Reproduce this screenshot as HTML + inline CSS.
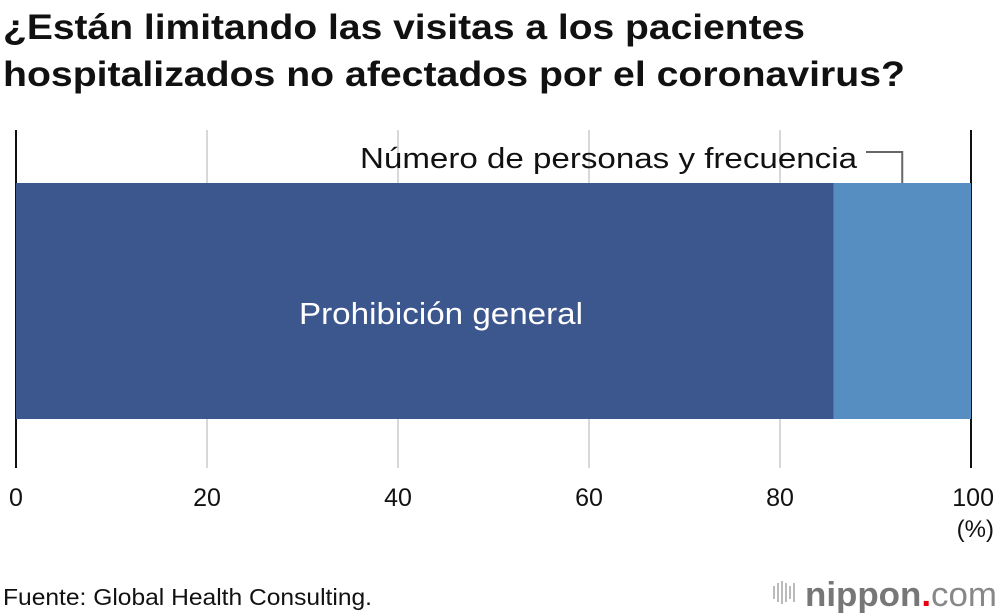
<!DOCTYPE html>
<html><head><meta charset="utf-8"><style>
html,body{margin:0;padding:0;background:#fff;width:1000px;height:616px;overflow:hidden}
svg{display:block;font-family:"Liberation Sans",sans-serif}
</style></head><body>
<svg id="chart" width="1000" height="616" viewBox="0 0 1000 616">
<text x="3" y="39" font-size="35" font-weight="bold" fill="#111" textLength="802" lengthAdjust="spacingAndGlyphs">¿Están limitando las visitas a los pacientes</text>
<text x="3" y="86" font-size="35" font-weight="bold" fill="#111" textLength="902" lengthAdjust="spacingAndGlyphs">hospitalizados no afectados por el coronavirus?</text>
<g id="grid"></g>
<g id="bars"></g>
<g id="ticks"></g>
<text x="994" y="537" font-size="24" text-anchor="end" fill="#111">(%)</text>
<text x="3" y="605" font-size="23" fill="#111" textLength="369" lengthAdjust="spacingAndGlyphs">Fuente: Global Health Consulting.</text>
<g>
<g fill="#bbb"><rect x="773" y="586" width="2" height="13"/><rect x="777" y="583" width="2" height="19"/><rect x="781" y="581" width="2" height="23"/><rect x="785" y="583" width="2" height="19"/><rect x="789" y="586" width="2" height="13"/><rect x="793" y="583" width="2" height="19"/></g>
<text x="805" y="606" font-size="34" font-weight="bold" fill="#777" textLength="192" lengthAdjust="spacingAndGlyphs">nippon<tspan fill="#e60012">.</tspan><tspan font-weight="normal" fill="#888">com</tspan></text>
</g>
</svg>
<script>
const categories = ["Prohibición general", "Número de personas y frecuencia"];
const values = [85.6, 14.4];
const colors = ["#3c568e", "#568ec2"];
const tickValues = [0, 20, 40, 60, 80, 100];
const tickLabels = ["0", "20", "40", "60", "80", "100"];
const NS = "http://www.w3.org/2000/svg";
const x = v => 16 + v * 9.55;
const barTop = 183, barBottom = 419;
function mk(tag, attrs, parent) {
  const e = document.createElementNS(NS, tag);
  for (const k in attrs) e.setAttribute(k, attrs[k]);
  parent.appendChild(e);
  return e;
}
const grid = document.getElementById('grid');
const ticks = document.getElementById('ticks');
tickValues.forEach((t, i) => {
  const edge = (t === 0 || t === 100);
  const l = mk('line', {x1: x(t), x2: x(t), y1: 130, y2: 468, stroke: edge ? '#111' : '#ccc', 'stroke-width': edge ? 2 : 1.5}, grid);
  
  
  const tx = mk('text', {x: t === 100 ? 994 : (t === 0 ? 16 : x(t)), y: 506, 'font-size': 25, 'text-anchor': t === 100 ? 'end' : 'middle', fill: '#111'}, ticks);
  tx.textContent = tickLabels[i];
  
  
});
const bars = document.getElementById('bars');
let acc = 0;
values.forEach((v, i) => {
  const r = mk('rect', {x: x(acc), y: barTop, width: x(acc + v) - x(acc), height: barBottom - barTop, fill: colors[i]}, bars);
  
  
  acc += v;
});
const t0 = mk('text', {x: 441, y: 324, 'font-size': 31, 'text-anchor': 'middle', fill: '#fff', textLength: 284, lengthAdjust: 'spacingAndGlyphs'}, bars);
t0.textContent = categories[0];


const cx = (x(values[0]) + x(100)) / 2;
const cl = mk('polyline', {points: `866,152 ${cx},152 ${cx},${barTop}`, fill: 'none', stroke: '#666', 'stroke-width': 2}, bars);


const t1 = mk('text', {x: 360, y: 168, 'font-size': 29, fill: '#111', textLength: 497, lengthAdjust: 'spacingAndGlyphs'}, bars);
t1.textContent = categories[1];


</script>
</body></html>
